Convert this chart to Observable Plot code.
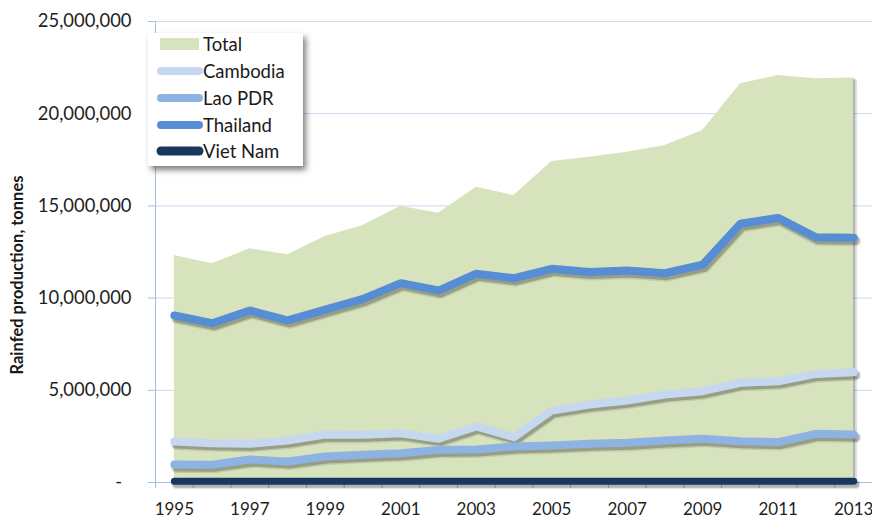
<!DOCTYPE html>
<html>
<head>
<meta charset="utf-8">
<script src="https://cdn.jsdelivr.net/npm/d3@7"></script>
<script src="https://cdn.jsdelivr.net/npm/@observablehq/plot@0.6"></script>
<style>
  html, body { margin: 0; padding: 0; background: #fff; }
  #wrap { position: relative; width: 872px; height: 518px; overflow: hidden; }
  #legend { position: absolute; left: 148px; top: 33px; width: 155px; height: 133px;
    background: #fff; box-shadow: 3px 4px 6px rgba(0,0,0,0.5); font-family: Lato, sans-serif; }
  #legend .row { position: absolute; left: 0; height: 24px; width: 155px; }
  #legend svg { position: absolute; left: 0; top: 0; }
  #legend span { position: absolute; left: 55px; top: 0; line-height: 24px; font-size: 18.5px; color: #1a1a1a; white-space: nowrap; }
</style>
</head>
<body>
<div id="wrap"><div id="chart"></div><div id="legend"></div></div>
<script>
const years    = [1995,1996,1997,1998,1999,2000,2001,2002,2003,2004,2005,2006,2007,2008,2009,2010,2011,2012,2013];
const total    = [12310000,11860000,12670000,12350000,13340000,13940000,14980000,14600000,16010000,15560000,17410000,17640000,17910000,18280000,19090000,21620000,22070000,21890000,21930000];
const thailand = [9060000,8640000,9330000,8790000,9370000,9960000,10810000,10410000,11320000,11080000,11590000,11410000,11500000,11350000,11810000,14030000,14350000,13300000,13270000];
const cambodia = [2220000,2130000,2100000,2280000,2600000,2590000,2670000,2370000,3040000,2460000,3900000,4230000,4450000,4770000,4950000,5410000,5490000,5890000,5980000];
const lao      = [980000,960000,1250000,1140000,1410000,1500000,1590000,1770000,1790000,1950000,2010000,2100000,2150000,2280000,2370000,2240000,2190000,2640000,2600000];
const vietnam  = [70000,70000,70000,70000,70000,70000,70000,70000,70000,70000,70000,70000,70000,70000,70000,70000,70000,70000,70000];

const yTicks = [0, 5000000, 10000000, 15000000, 20000000, 25000000];
const xLabelYears = [1995,1997,1999,2001,2003,2005,2007,2009,2011,2013];
const xBoundaries = [1994.5,1995.5,1996.5,1997.5,1998.5,1999.5,2000.5,2001.5,2002.5,2003.5,2004.5,2005.5,2006.5,2007.5,2008.5,2009.5,2010.5,2011.5,2012.5,2013.5];

const seriesNames  = ["Total","Cambodia","Lao PDR","Thailand","Viet Nam"];
const seriesColors = ["#d7e3bd","#c6d8f0","#8db3e2","#568dd5","#17375e"];

const rows = years.map((year, i) => ({year, total: total[i], Thailand: thailand[i], Cambodia: cambodia[i], "Lao PDR": lao[i], "Viet Nam": vietnam[i]}));

const gridColor = "#cad8ef";
const axisColor = "#a6bfe7";

const lineMarks = (name, w) => [
  Plot.lineY(rows, {x: "year", y: name, dx: 2, dy: 3, stroke: "#000", strokeOpacity: 0.1,
    strokeWidth: w + 3, strokeLinecap: "round", strokeLinejoin: "round"}),
  Plot.lineY(rows, {x: "year", y: name, dx: 2, dy: 3, stroke: "#000", strokeOpacity: 0.22,
    strokeWidth: w, strokeLinecap: "round", strokeLinejoin: "round"}),
  Plot.lineY(rows, {x: "year", y: name, stroke: seriesColors[seriesNames.indexOf(name)],
    strokeWidth: w, strokeLinecap: "round", strokeLinejoin: "round"})
];

const chart = Plot.plot({
  width: 872, height: 518,
  marginLeft: 155, marginRight: 0, marginTop: 21, marginBottom: 36,
  x: {domain: [1994.5, 2013.5], axis: null},
  y: {domain: [0, 25000000], axis: null},
  style: {fontFamily: "Lato, sans-serif", fontSize: "17px", color: "#1f1f1f", background: "#fff", overflow: "visible"},
  marks: [
    Plot.gridY(yTicks, {stroke: gridColor, strokeOpacity: 1}),
    Plot.areaY(rows, {x: "year", y: "total", dx: 4, dy: 2, fill: "#000", fillOpacity: 0.12}),
    Plot.areaY(rows, {x: "year", y: "total", dx: 2, dy: 1, fill: "#000", fillOpacity: 0.2}),
    Plot.areaY(rows, {x: "year", y: "total", fill: seriesColors[0]}),
    Plot.ruleX([1994.5], {stroke: axisColor}),
    Plot.ruleY([0], {stroke: axisColor}),
    Plot.axisY(yTicks, {anchor: "left", tickSize: 7, tickPadding: 17, stroke: axisColor, fill: "#1f1f1f", fontSize: 18.4,
      tickFormat: d => d === 0 ? "-\u00a0\u00a0" : d3.format(",")(d), label: null}),
    Plot.axisX(xBoundaries, {anchor: "bottom", tickSize: 6, stroke: axisColor, tickFormat: () => "", label: null}),
    Plot.axisX(xLabelYears, {anchor: "bottom", tickSize: 0, tickPadding: 20, fill: "#1f1f1f", fontSize: 17, tickFormat: d => String(d), label: null}),
    Plot.text(["Rainfed production, tonnes"], {frameAnchor: "left", textAnchor: "middle", rotate: -90, dx: -138, dy: 23,
      fontWeight: "bold", fontSize: 16.5, fill: "#1a1a1a"}),
    ...lineMarks("Cambodia", 8),
    ...lineMarks("Lao PDR", 8),
    ...lineMarks("Thailand", 8),
    ...lineMarks("Viet Nam", 7)
  ]
});

document.getElementById("chart").appendChild(chart);

// Legend
const legendRowCenters = [11, 38, 65, 92, 118];
const legend = d3.select("#legend");
seriesNames.forEach((name, i) => {
  const row = legend.append("div").attr("class", "row").style("top", (legendRowCenters[i] - 12) + "px");
  const s = row.append("svg").attr("width", 60).attr("height", 24);
  if (i === 0) {
    s.append("rect").attr("x", 12).attr("y", 6).attr("width", 39).attr("height", 12).attr("fill", seriesColors[i]);
  } else {
    s.append("line").attr("x1", 13).attr("x2", 51).attr("y1", 12).attr("y2", 12)
      .attr("stroke", seriesColors[i]).attr("stroke-width", i === 4 ? 9 : 8).attr("stroke-linecap", "round");
  }
  row.append("span").text(name);
});
</script>
</body>
</html>
